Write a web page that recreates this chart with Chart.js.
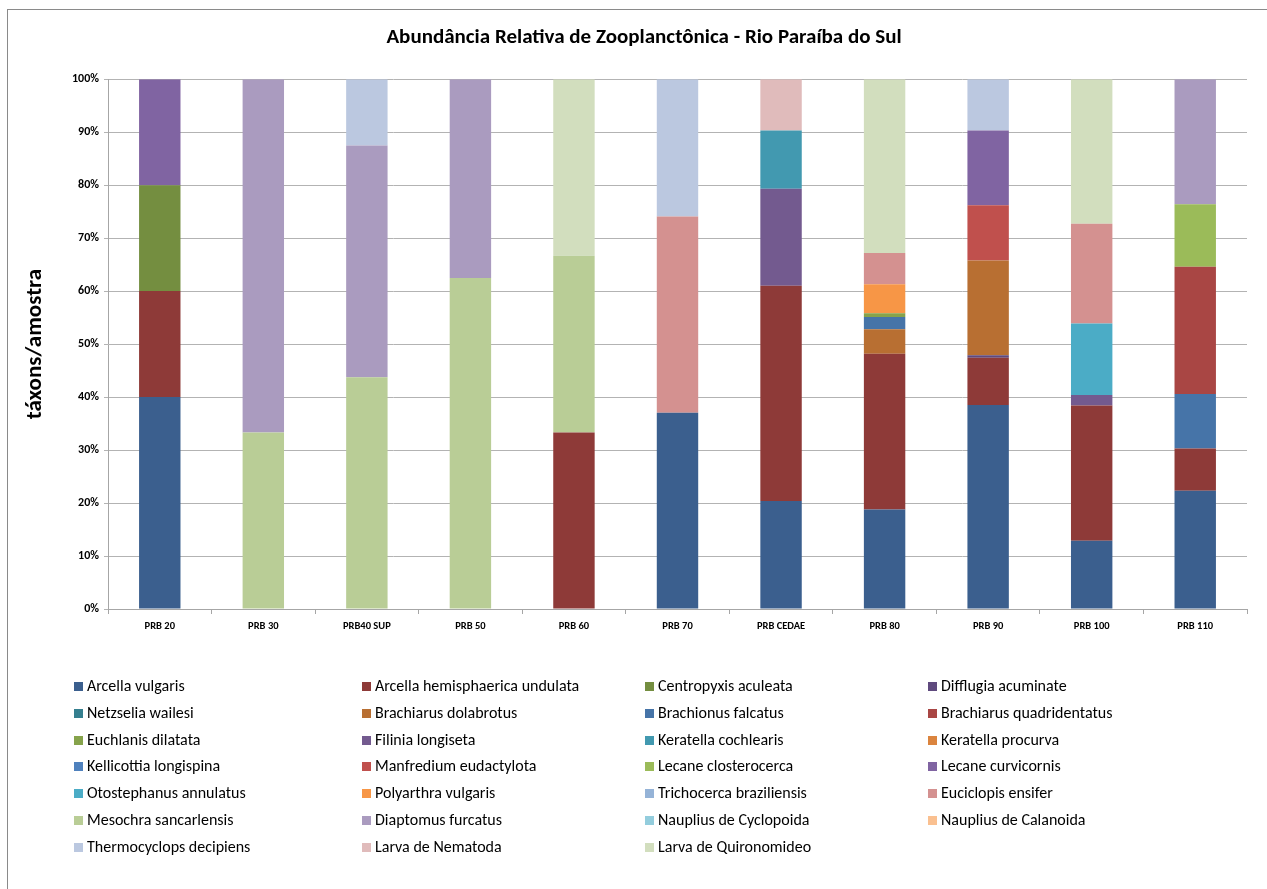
<!DOCTYPE html>
<html>
<head>
<meta charset="utf-8">
<script src="https://cdn.jsdelivr.net/npm/chart.js"></script>
<style>
  body { margin: 0; background: #fff; }
  #wrap { position: relative; width: 1267px; height: 889px; overflow: hidden; }
  #frame { position: absolute; left: 7px; top: 9px; width: 1300px; height: 900px;
           border-left: 1px solid #8a8a8a; border-top: 1px solid #8a8a8a; }
  .item { position: absolute; height: 27px; line-height: 27px; white-space: nowrap;
          font-family: Carlito, Lato, sans-serif; font-size: 16px; color: #000; }
  .item span { display: inline-block; width: 9px; height: 9px; margin-right: 4px; vertical-align: 0px; }
</style>
</head>
<body>
<div id="wrap">
  <div id="frame"></div>
  <canvas id="abundancia" width="1267" height="889"></canvas>
  <div id="legend"></div>
</div>
<script>
const stations = ['PRB 20', 'PRB 30', 'PRB40 SUP', 'PRB 50', 'PRB 60', 'PRB 70', 'PRB CEDAE', 'PRB 80', 'PRB 90', 'PRB 100', 'PRB 110'];

const species = [
  'Arcella vulgaris', 'Arcella hemisphaerica undulata', 'Centropyxis aculeata', 'Difflugia acuminate',
  'Netzselia wailesi', 'Brachiarus dolabrotus', 'Brachionus falcatus', 'Brachiarus quadridentatus',
  'Euchlanis dilatata', 'Filinia longiseta', 'Keratella cochlearis', 'Keratella procurva',
  'Kellicottia longispina', 'Manfredium eudactylota', 'Lecane closterocerca', 'Lecane curvicornis',
  'Otostephanus annulatus', 'Polyarthra vulgaris', 'Trichocerca braziliensis', 'Euciclopis ensifer',
  'Mesochra sancarlensis', 'Diaptomus furcatus', 'Nauplius de Cyclopoida', 'Nauplius de Calanoida',
  'Thermocyclops decipiens', 'Larva de Nematoda', 'Larva de Quironomideo'
];

const colors = [
  '#3B5F8E', '#8E3A38', '#748E40', '#5F4A7E',
  '#357F8F', '#B86F32', '#4674A8', '#A94644',
  '#86A34B', '#735A8F', '#4299B0', '#DB843E',
  '#4F81BD', '#C0504D', '#9BBB59', '#8064A2',
  '#4BACC6', '#F79646', '#95B3D7', '#D49190',
  '#B9CD96', '#AA9BBF', '#93CDDD', '#FAC090',
  '#BBC8E0', '#E0BBBB', '#D2DEBE'
];

// % per station, one row per species (same order as species)
const values = [
  [40, 0, 0, 0, 0, 37.04, 20.4, 18.8, 38.5, 12.9, 22.3],
  [20, 0, 0, 0, 33.33, 0, 40.6, 29.4, 8.9, 25.5, 8.0],
  [20, 0, 0, 0, 0, 0, 0, 0, 0, 0, 0],
  [0, 0, 0, 0, 0, 0, 0, 0, 0.5, 0, 0],
  [0, 0, 0, 0, 0, 0, 0, 0, 0, 0, 0],
  [0, 0, 0, 0, 0, 0, 0, 4.6, 17.9, 0, 0],
  [0, 0, 0, 0, 0, 0, 0, 2.3, 0, 0, 10.3],
  [0, 0, 0, 0, 0, 0, 0, 0, 0, 0, 24.0],
  [0, 0, 0, 0, 0, 0, 0, 0.7, 0, 0, 0],
  [0, 0, 0, 0, 0, 0, 18.3, 0, 0, 2.0, 0],
  [0, 0, 0, 0, 0, 0, 11.0, 0, 0, 0, 0],
  [0, 0, 0, 0, 0, 0, 0, 0, 0, 0, 0],
  [0, 0, 0, 0, 0, 0, 0, 0, 0, 0, 0],
  [0, 0, 0, 0, 0, 0, 0, 0, 10.4, 0, 0],
  [0, 0, 0, 0, 0, 0, 0, 0, 0, 0, 11.8],
  [20, 0, 0, 0, 0, 0, 0, 0, 14.1, 0, 0],
  [0, 0, 0, 0, 0, 0, 0, 0, 0, 13.5, 0],
  [0, 0, 0, 0, 0, 0, 0, 5.5, 0, 0, 0],
  [0, 0, 0, 0, 0, 0, 0, 0, 0, 0, 0],
  [0, 0, 0, 0, 0, 37.04, 0, 5.9, 0, 18.8, 0],
  [0, 33.33, 43.75, 62.5, 33.33, 0, 0, 0, 0, 0, 0],
  [0, 66.67, 43.75, 37.5, 0, 0, 0, 0, 0, 0, 23.6],
  [0, 0, 0, 0, 0, 0, 0, 0, 0, 0, 0],
  [0, 0, 0, 0, 0, 0, 0, 0, 0, 0, 0],
  [0, 0, 12.5, 0, 0, 25.92, 0, 0, 9.7, 0, 0],
  [0, 0, 0, 0, 0, 0, 9.7, 0, 0, 0, 0],
  [0, 0, 0, 0, 33.34, 0, 0, 32.8, 0, 27.3, 0]
];

const fontFam = 'Carlito, Lato, sans-serif';

new Chart('abundancia', {
  type: 'bar',
  data: {
    labels: stations,
    datasets: species.map((name, i) => ({
      label: name,
      data: values[i],
      backgroundColor: colors[i],
      borderWidth: 0,
      categoryPercentage: 1,
      barPercentage: 0.4,
    })),
  },
  options: {
    responsive: false,
    animation: false,
    layout: { padding: { left: 41, right: 20, top: 0, bottom: 250 } },
    plugins: {
      legend: { display: false },
      tooltip: { enabled: false },
      title: {
        display: true,
        text: 'Abundância Relativa de Zooplanctônica - Rio Paraíba do Sul',
        color: '#000',
        font: { family: fontFam, size: 21, weight: 'bold' },
        padding: { top: 25, bottom: 29 },
      },
    },
    scales: {
      x: {
        stacked: true,
        afterFit: s => { s.height = 30; },
        grid: { drawOnChartArea: false, tickLength: 5, color: '#a6a6a6' },
        border: { color: '#a6a6a6' },
        ticks: { color: '#000', padding: 6, font: { family: fontFam, size: 10.5, weight: 'bold' } },
      },
      y: {
        stacked: true,
        min: 0,
        max: 100,
        afterFit: s => { s.width = 67; },
        ticks: {
          stepSize: 10,
          color: '#000',
          padding: 5,
          font: { family: fontFam, size: 12, weight: 'bold' },
          callback: v => v + '%',
        },
        grid: { color: '#b3b3b3', tickLength: 4 },
        border: { color: '#a6a6a6' },
        title: {
          display: true,
          text: 'táxons/amostra',
          color: '#000',
          font: { family: fontFam, size: 23, weight: 'bold' },
          padding: { top: -20, bottom: 0 },
        },
      },
    },
  },
});

// legend in 4 columns, read row by row like the original
const colX = [74, 362, 645, 928];
const legend = document.getElementById('legend');
species.forEach((name, i) => {
  const div = document.createElement('div');
  div.className = 'item';
  div.style.left = colX[i % 4] + 'px';
  div.style.top = (672 + Math.floor(i / 4) * 26.8) + 'px';
  div.innerHTML = '<span style="background:' + colors[i] + '"></span>' + name;
  legend.appendChild(div);
});
</script>
</body>
</html>
